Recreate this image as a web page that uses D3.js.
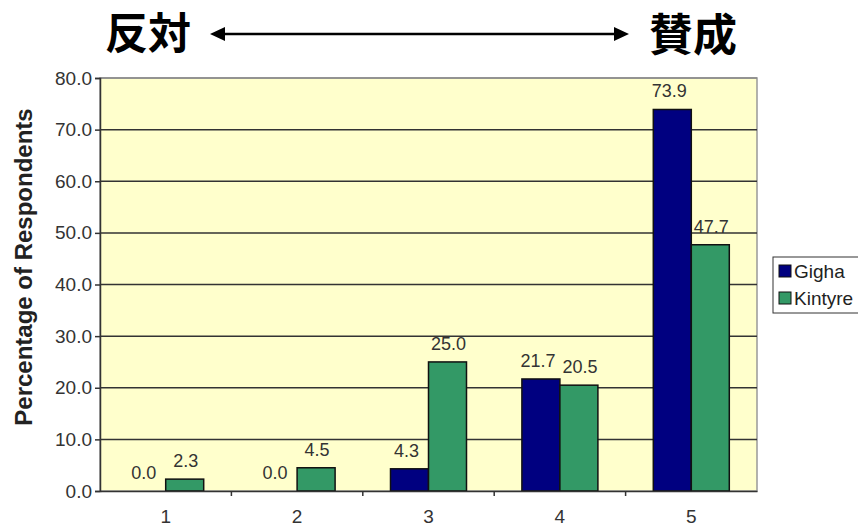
<!DOCTYPE html>
<html><head><meta charset="utf-8">
<script src="https://cdn.jsdelivr.net/npm/d3@7"></script>
<style>body{margin:0;background:#fff;} svg{display:block;}</style>
</head><body>
<svg id="c" width="858" height="527"></svg>
<script>
const categories = ["1","2","3","4","5"];
const seriesNames = ["Gigha","Kintyre"];
const gigha = [0.0, 0.0, 4.3, 21.7, 73.9];
const kintyre = [2.3, 4.5, 25.0, 20.5, 47.7];
const yTicks = [0,10,20,30,40,50,60,70,80];
const colors = ["#000080","#339966"];

const svg = d3.select("#c");
const F = "Liberation Sans, Arial, sans-serif";
const L=100, R=757, T=78, B=491;
const x = d3.scaleBand().domain(categories).range([L,R]);
const xs = d3.scaleBand().domain(seriesNames).range([0,76]);
const y = d3.scaleLinear().domain([0,80]).range([B,T]);

svg.append("rect").attr("x",L).attr("y",T).attr("width",R-L).attr("height",B-T)
  .attr("fill","#FFFFCC").attr("stroke","#999").attr("stroke-width",1.5);

// gridlines
svg.append("g").selectAll("line").data(yTicks.filter(d=>d>0)).join("line")
  .attr("x1",L).attr("x2",R).attr("y1",d=>y(d)).attr("y2",d=>y(d))
  .attr("stroke",d=>d===80?"#888":"#333").attr("stroke-width",1.5);

const data = categories.map((c,i)=>({c, vals:[gigha[i],kintyre[i]]}));
const g = svg.append("g");
data.forEach(d=>{
  const x0 = x(d.c)+x.bandwidth()/2-38;
  d.vals.forEach((v,j)=>{
    const bx = x0+xs(seriesNames[j]);
    if(v>0){
      g.append("rect").attr("x",bx).attr("y",y(v)).attr("width",xs.bandwidth()).attr("height",B-y(v))
        .attr("fill",colors[j]).attr("stroke","#111").attr("stroke-width",1.5);
    }
    g.append("text").attr("x",bx+xs.bandwidth()/2 - (j===0?3:-1)).attr("y",y(v)-12)
      .attr("text-anchor","middle").attr("font-family",F)
      .attr("font-size",18).attr("fill","#333").text(v.toFixed(1));
  });
});

// y axis
const ya = d3.axisLeft(y).tickValues(yTicks).tickFormat(d=>d.toFixed(1)).tickSize(5).tickPadding(3);
const yg = svg.append("g").attr("transform",`translate(${L},0)`).call(ya);
yg.select(".domain").attr("stroke","#333").attr("stroke-width",1.5);
yg.selectAll(".tick line").attr("stroke","#333").attr("stroke-width",1.5);
yg.selectAll("text").attr("font-family",F).attr("font-size",19).attr("fill","#333");

// x axis
const xa = d3.axisBottom(x).tickSize(0).tickPadding(19);
const xg = svg.append("g").attr("transform",`translate(0,${B})`).call(xa);
xg.select(".domain").attr("stroke","#333").attr("stroke-width",1.5);
xg.selectAll("text").attr("font-family",F).attr("font-size",19).attr("fill","#333");
xg.selectAll("line.bt").data(categories.slice(1)).join("line").attr("class","bt")
  .attr("x1",d=>x(d)).attr("x2",d=>x(d)).attr("y1",0).attr("y2",5)
  .attr("stroke","#333").attr("stroke-width",1.5);

// y label
svg.append("text").attr("transform","translate(32,267) rotate(-90)")
  .attr("text-anchor","middle").attr("font-family",F)
  .attr("font-weight","bold").attr("font-size",24).attr("fill","#222").text("Percentage of Respondents");

// title
const tf = "Noto Sans CJK JP, sans-serif";
svg.append("text").attr("x",148).attr("y",49).attr("text-anchor","middle")
  .attr("font-family",tf).attr("font-weight","bold").attr("font-size",43).text("反対");
svg.append("text").attr("x",693).attr("y",51).attr("text-anchor","middle")
  .attr("font-family",tf).attr("font-weight","bold").attr("font-size",44).text("賛成");
svg.append("line").attr("x1",220).attr("x2",620).attr("y1",34).attr("y2",34)
  .attr("stroke","#000").attr("stroke-width",2.5);
svg.append("path").attr("d","M210,34 L225,27 L225,41 Z").attr("fill","#000");
svg.append("path").attr("d","M629,34 L614,27 L614,41 Z").attr("fill","#000");

// legend
const lg = svg.append("g");
lg.append("rect").attr("x",773).attr("y",257).attr("width",90).attr("height",56)
  .attr("fill","#fff").attr("stroke","#333").attr("stroke-width",1);
seriesNames.forEach((s,i)=>{
  lg.append("rect").attr("x",779).attr("y",265+i*27).attr("width",12).attr("height",12)
    .attr("fill",colors[i]).attr("stroke","#111");
  lg.append("text").attr("x",794).attr("y",278+i*27).attr("font-family",F)
    .attr("font-size",19).attr("fill","#222").text(s);
});
</script>
</body></html>
